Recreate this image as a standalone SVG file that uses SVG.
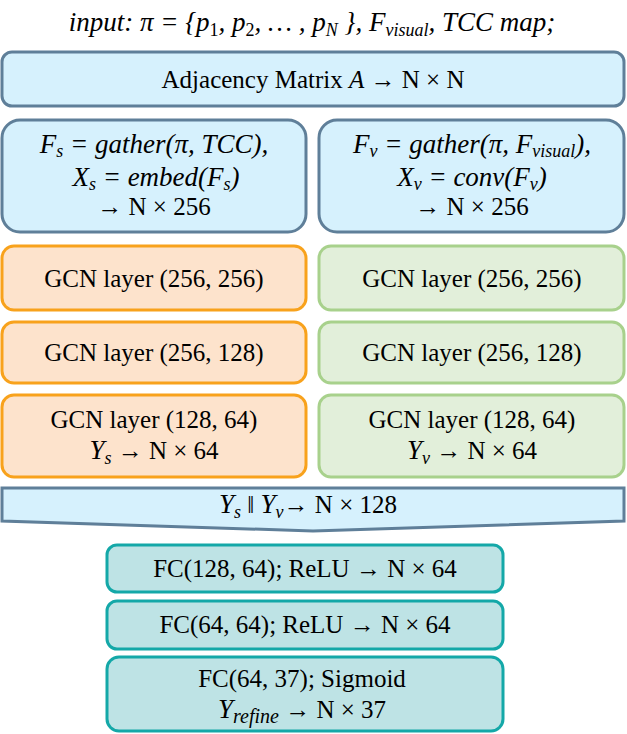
<svg xmlns="http://www.w3.org/2000/svg" width="627" height="734" viewBox="0 0 627 734">
<style>
.t{font-family:"Liberation Serif","Times New Roman",serif;font-size:25px;fill:#000;text-anchor:middle}
.m{font-style:italic}
.mm{font-size:27px}
.u{font-style:normal}
.s{font-size:18px}
.blue{fill:#d6f1fd;stroke:#5f7f99;stroke-width:3}
.org{fill:#fde3cc;stroke:#f8a21c;stroke-width:3}
.grn{fill:#e2efda;stroke:#a8d18c;stroke-width:3}
.teal{fill:#bee3e5;stroke:#14a8a8;stroke-width:3}
</style>
<rect width="627" height="734" fill="#fff"/>
<g id="title">
<text class="t m mm" x="312" y="31">input: π = {p<tspan class="s u" dy="5">1</tspan><tspan dy="-5">, p</tspan><tspan class="s u" dy="5">2</tspan><tspan dy="-5">, … , p</tspan><tspan class="s" dy="5">N</tspan><tspan dy="-5"> }, </tspan><tspan>F</tspan><tspan class="s" dy="5">visual</tspan><tspan dy="-5">,  TCC map;</tspan></text>
</g>
<g id="adj">
<rect class="blue" x="2" y="52" width="622" height="54" rx="10"/>
<text class="t" x="313" y="88">Adjacency Matrix <tspan class="m">A</tspan>  → N × N</text>
</g>
<g id="fs">
<rect class="blue" x="2" y="120" width="304" height="112" rx="18"/>
<text class="t m mm" x="154" y="153">F<tspan class="s" dy="4">s</tspan><tspan dy="-4"> = gather(π, TCC),</tspan></text>
<text class="t m mm" x="156" y="186">X<tspan class="s" dy="4">s</tspan><tspan dy="-4"> = embed(F</tspan><tspan class="s" dy="4">s</tspan><tspan dy="-4">)</tspan></text>
<text class="t" x="154" y="215">→ N × 256</text>
</g>
<g id="fv">
<rect class="blue" x="319" y="120" width="305" height="112" rx="18"/>
<text class="t m mm" x="472" y="153">F<tspan class="s" dy="4">v</tspan><tspan dy="-4"> = gather(π, F</tspan><tspan class="s" dy="4">visual</tspan><tspan dy="-4">),</tspan></text>
<text class="t m mm" x="472" y="186">X<tspan class="s" dy="4">v</tspan><tspan dy="-4"> = conv(F</tspan><tspan class="s" dy="4">v</tspan><tspan dy="-4">)</tspan></text>
<text class="t" x="472" y="215">→ N × 256</text>
</g>
<g id="gcn_s1">
<rect class="org" x="2" y="246" width="304" height="64" rx="12"/>
<text class="t" x="154" y="287">GCN layer (256, 256)</text>
</g>
<g id="gcn_s2">
<rect class="org" x="2" y="322" width="304" height="61" rx="12"/>
<text class="t" x="154" y="361">GCN layer (256, 128)</text>
</g>
<g id="gcn_s3">
<rect class="org" x="2" y="395" width="304" height="82" rx="12"/>
<text class="t" x="154" y="428">GCN layer (128, 64)</text>
<text class="t" x="154" y="459"><tspan class="m mm">Y</tspan><tspan class="m s" dy="5">s</tspan><tspan dy="-5"> →  N × 64</tspan></text>
</g>
<g id="gcn_v1">
<rect class="grn" x="319" y="246" width="305" height="64" rx="12"/>
<text class="t" x="472" y="287">GCN layer (256, 256)</text>
</g>
<g id="gcn_v2">
<rect class="grn" x="319" y="322" width="305" height="61" rx="12"/>
<text class="t" x="472" y="361">GCN layer (256, 128)</text>
</g>
<g id="gcn_v3">
<rect class="grn" x="319" y="395" width="305" height="82" rx="12"/>
<text class="t" x="472" y="428">GCN layer (128, 64)</text>
<text class="t" x="472" y="459"><tspan class="m mm">Y</tspan><tspan class="m s" dy="5">v</tspan><tspan dy="-5"> →  N × 64</tspan></text>
</g>
<g id="concat">
<path class="blue" d="M2,488 H624 V521 L313,531 L2,521 Z"/>
<text class="t" x="308" y="513"><tspan class="m mm">Y</tspan><tspan class="m s" dy="5">s</tspan><tspan dy="-5"> ‖ </tspan><tspan class="m mm">Y</tspan><tspan class="m s" dy="5">v</tspan><tspan dy="-5">→  N × 128</tspan></text>
</g>
<g id="fc1">
<rect class="teal" x="107" y="545" width="396" height="47" rx="10"/>
<text class="t" x="305" y="577">FC(128, 64); ReLU →  N × 64</text>
</g>
<g id="fc2">
<rect class="teal" x="107" y="601" width="396" height="48" rx="10"/>
<text class="t" x="305" y="633">FC(64, 64); ReLU →  N × 64</text>
</g>
<g id="fc3">
<rect class="teal" x="107" y="657" width="396" height="74" rx="12"/>
<text class="t" x="302" y="687">FC(64, 37); Sigmoid</text>
<text class="t" x="302" y="718"><tspan class="m mm">Y</tspan><tspan class="m s" dy="5" style="font-size:20px">refine</tspan><tspan dy="-5"> → N × 37</tspan></text>
</g>
<g id="connectors"></g>
</svg>
